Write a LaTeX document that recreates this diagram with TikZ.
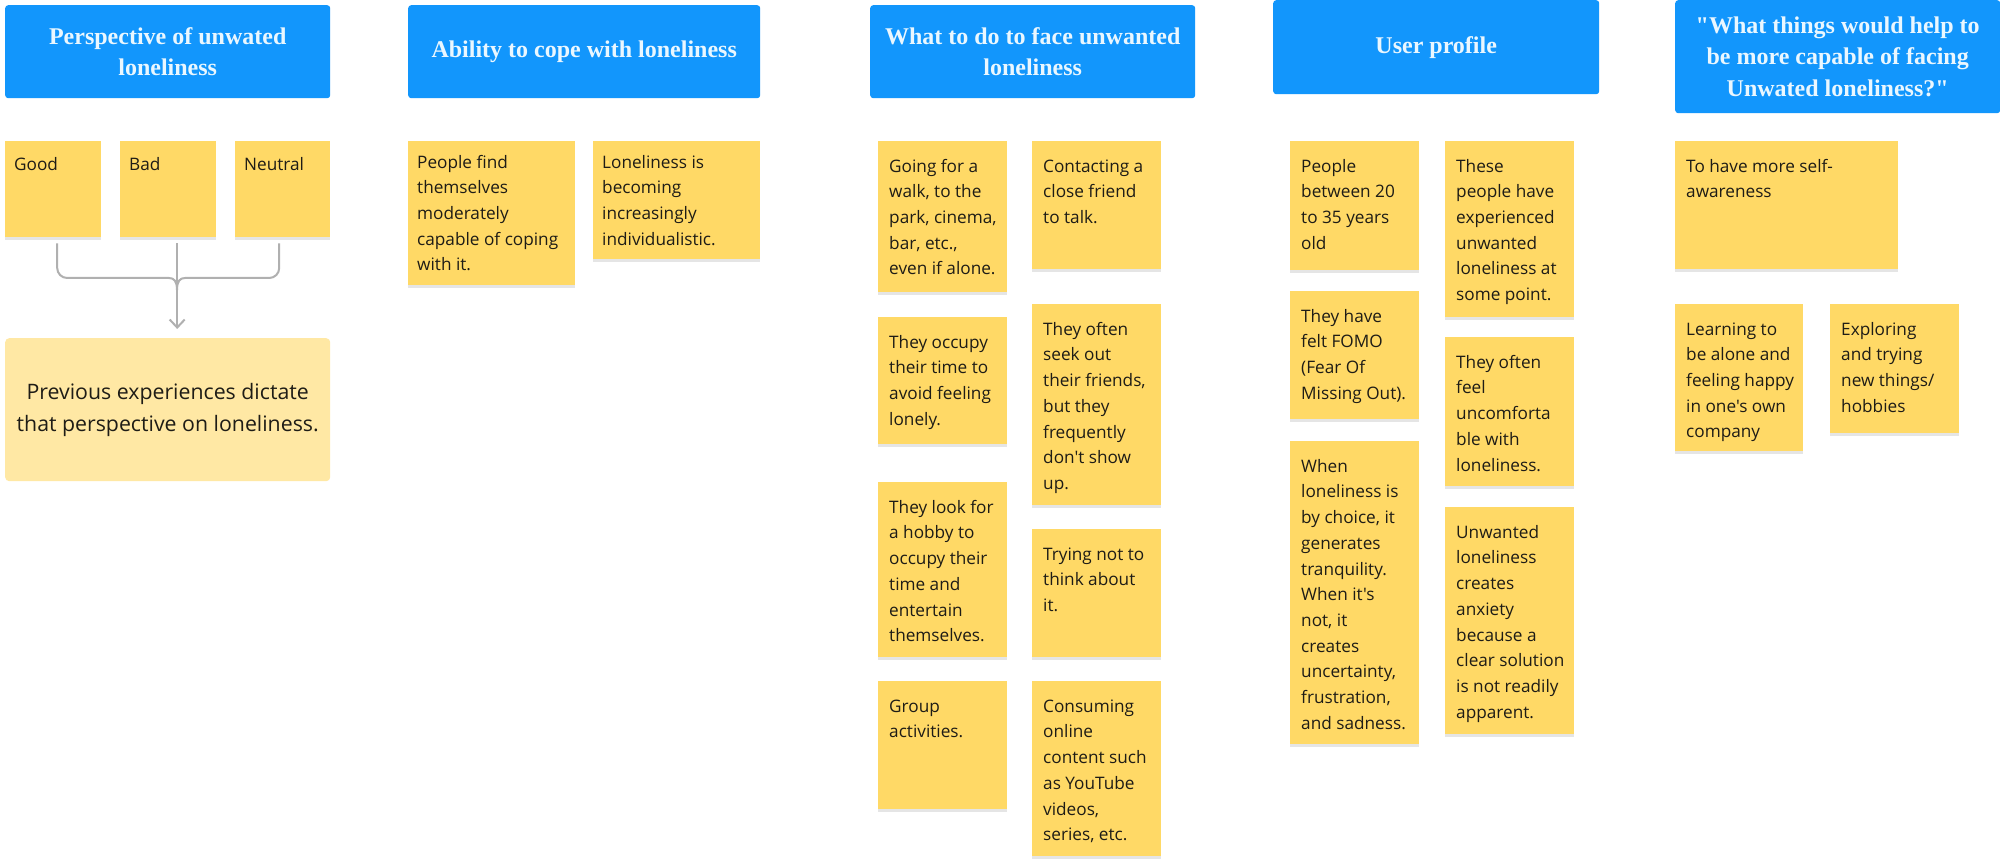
\documentclass[tikz,border=0pt]{standalone}
\usepackage{fontspec}
\usetikzlibrary{calc,shadows,arrows.meta}
\newfontfamily\hfont{Liberation Serif}
\newfontfamily\nfont{Open Sans}
\definecolor{hdrblue}{RGB}{18,150,252}
\definecolor{hdrtext}{RGB}{234,247,255}
\definecolor{noteyel}{RGB}{255,217,102}
\definecolor{notelight}{RGB}{255,232,164}
\definecolor{ntxt}{RGB}{30,28,22}
\definecolor{conngray}{RGB}{176,176,176}
\newcommand\nstrut{\rule{0pt}{19pt}}
\tikzset{
  hdr/.style={rectangle, fill=hdrblue, rounded corners=3pt, anchor=north west, inner sep=0pt,
    align=center, text=hdrtext, font=\hfont\bfseries\fontsize{24}{31.7}\selectfont},
  note/.style={rectangle, fill=noteyel, anchor=north west, inner sep=0pt,
    drop shadow={shadow xshift=0pt, shadow yshift=-3pt, opacity=0.10, fill=black}},
  ntext/.style={anchor=north west, inner sep=0pt, align=left, text=ntxt,
    font=\nfont\fontsize{17.2}{25.7}\selectfont},
  bignote/.style={rectangle, fill=notelight, rounded corners=4pt, anchor=north west, inner sep=0pt,
    align=center, text=ntxt, font=\nfont\fontsize{21.3}{32}\selectfont},
  conn/.style={draw=conngray, line width=2pt},
  arr/.style={-{Straight Barb[length=8pt,width=15pt,line width=2pt]}}
}
\newcommand\stickynote[7][11,12]{%
  \node[note, minimum width=#5pt, minimum height=#6pt] (#2) at (#3,#4) {};
  \node[ntext] (#2t) at ($(#2.north west)+(#1)$) {\nstrut #7};
}
\begin{document}
\begin{tikzpicture}[x=1pt,y=-1pt]
\useasboundingbox[fill=white] (0,0) rectangle (2000,866);

% headers
\node[hdr, minimum width=325pt, minimum height=93pt] (h1) at (5,5) {Perspective of unwated\\loneliness};
\node[hdr, minimum width=352pt, minimum height=93pt] (h2) at (408,5) {Ability to cope with loneliness};
\node[hdr, minimum width=325pt, minimum height=93pt] (h3) at (870,5) {What to do to face unwanted\\loneliness};
\node[hdr, minimum width=326pt, minimum height=94pt] (h4) at (1273,0) {User profile};
\node[hdr, minimum width=325pt, minimum height=113pt] (h5) at (1675,0) {"What things would help to\\be more capable of facing\\Unwated loneliness?"};

% column 1
\stickynote[9,10]{good}{5}{141}{96}{96}{Good}
\stickynote[9,10]{bad}{120}{141}{96}{96}{Bad}
\stickynote[9,10]{neutral}{235}{141}{95}{96}{Neutral}
\node[bignote, minimum width=325pt, minimum height=143pt] (prev) at (5,338)
  {Previous experiences dictate\\that perspective on loneliness.};

\draw[conn, rounded corners=10pt] ($(good.south)+(4,6)$) |- (169,278);
\draw[conn] (169,278) .. controls (174,278) and (177,281) .. (177,290);
\draw[conn, rounded corners=10pt] ($(neutral.south)+(-3.5,6)$) |- (185,278);
\draw[conn] (185,278) .. controls (180,278) and (177,281) .. (177,290);
\draw[conn, arr, shorten >=9pt] ($(bad.south)+(9,6)$) coordinate (jc) -- (jc |- prev.north);

% column 2
\stickynote[9,8]{cope}{408}{141}{167}{144}{People find\\themselves\\moderately\\capable of coping\\with it.}
\stickynote[9,8]{indiv}{593}{141}{167}{118}{Loneliness is\\becoming\\increasingly\\individualistic.}

% column 3
\stickynote{walk}{878}{141}{129}{151}{Going for a\\walk, to the\\park, cinema,\\bar, etc.,\\even if alone.}
\stickynote{friend}{1032}{141}{129}{128}{Contacting a\\close friend\\to talk.}
\stickynote{occupy}{878}{317}{129}{127}{They occupy\\their time to\\avoid feeling\\lonely.}
\stickynote{seek}{1032}{304}{129}{201}{They often\\seek out\\their friends,\\but they\\frequently\\don't show\\up.}
\stickynote{hobby}{878}{482}{129}{175}{They look for\\a hobby to\\occupy their\\time and\\entertain\\themselves.}
\stickynote{trying}{1032}{529}{129}{128}{Trying not to\\think about\\it.}
\stickynote{group}{878}{681}{129}{128}{Group\\activities.}
\stickynote{online}{1032}{681}{129}{175}{Consuming\\online\\content such\\as YouTube\\videos,\\series, etc.}

% column 4
\stickynote{age}{1290}{141}{129}{129}{People\\between 20\\to 35 years\\old}
\stickynote{exper}{1445}{141}{129}{176}{These\\people have\\experienced\\unwanted\\loneliness at\\some point.}
\stickynote{fomo}{1290}{291}{129}{128}{They have\\felt FOMO\\(Fear Of\\Missing Out).}
\stickynote{uncomf}{1445}{337}{129}{149}{They often\\feel\\uncomforta\\ble with\\loneliness.}
\stickynote{choice}{1290}{441}{129}{303}{When\\loneliness is\\by choice, it\\generates\\tranquility.\\When it's\\not, it\\creates\\uncertainty,\\frustration,\\and sadness.}
\stickynote{anxiety}{1445}{507}{129}{227}{Unwanted\\loneliness\\creates\\anxiety\\because a\\clear solution\\is not readily\\apparent.}

% column 5
\stickynote{aware}{1675}{141}{223}{128}{To have more self-\\awareness}
\stickynote{alone}{1675}{304}{128}{147}{Learning to\\be alone and\\feeling happy\\in one's own\\company}
\stickynote{explore}{1830}{304}{129}{129}{Exploring\\and trying\\new things/\\hobbies}
\end{tikzpicture}
\end{document}
